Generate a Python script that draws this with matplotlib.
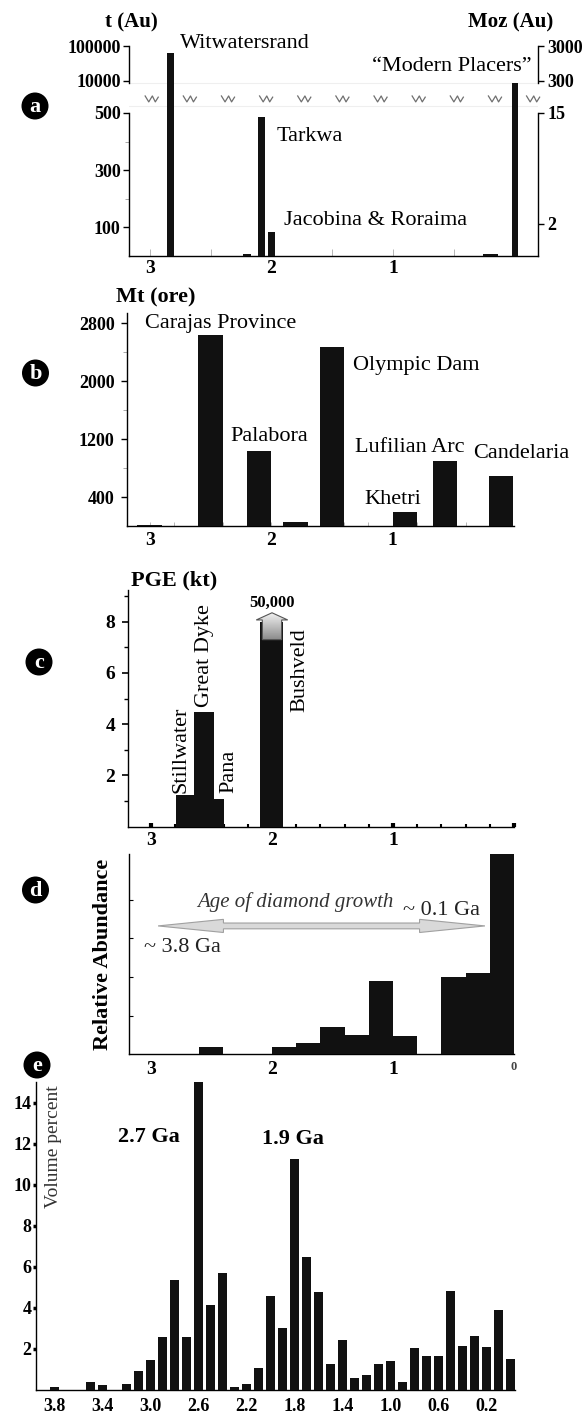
import numpy as np
import matplotlib.pyplot as plt
from matplotlib.patches import Ellipse, FancyArrow, Polygon
from matplotlib.colors import LinearSegmentedColormap

plt.rcParams['font.family'] = ['Liberation Serif', 'DejaVu Serif']
plt.rcParams['axes.linewidth'] = 1.0

BAR = '#111111'

# (a) gold, tonnes Au (placers use the Moz scale on the right)
au_age = [2.83, 2.2, 2.08, 2.0, 0.2, 0.0]
au_tonnes = [63000, 7, 485, 85, 6, 9300]
au_width = [0.062, 0.06, 0.062, 0.062, 0.12, 0.055]
au_left_ticks = [100, 300, 500, 10000, 100000]
au_left_labels = ['100', '300', '500', '10000', '100000']
au_right_ticks = [112, 500, 10000, 100000]
au_right_labels = ['2', '15', '300', '3000']

# (b) IOCG / Cu deposits, Mt ore
cu_age = [3.0, 2.5, 2.1, 1.8, 1.5, 0.9, 0.57, 0.11]
cu_mt = [20, 2635, 1040, 50, 2475, 200, 900, 695]

# (c) PGE, kt
pge_age = [2.715, 2.56, 2.44, 2.0]
pge_kt = [1.23, 4.46, 1.09, 8.0]
pge_width = [0.15, 0.165, 0.08, 0.19]

# (d) diamond ages, relative abundance
dia_age = [2.5, 1.9, 1.7, 1.5, 1.3, 1.1, 0.9, 0.5, 0.3, 0.1]
dia_abund = [0.2, 0.2, 0.28, 0.7, 0.5, 1.9, 0.48, 2.0, 2.1, 5.18]

# (e) juvenile crust, volume percent per 0.1 Ga
crust_age = [3.8, 3.7, 3.6, 3.5, 3.4, 3.3, 3.2, 3.1, 3.0, 2.9, 2.8, 2.7, 2.6,
             2.5, 2.4, 2.3, 2.2, 2.1, 2.0, 1.9, 1.8, 1.7, 1.6, 1.5, 1.4, 1.3,
             1.2, 1.1, 1.0, 0.9, 0.8, 0.7, 0.6, 0.5, 0.4, 0.3, 0.2, 0.1, 0.0]
crust_vol = [0.1, 0, 0, 0.39, 0.2, 0, 0.25, 0.88, 1.44, 2.56, 5.32, 2.56, 15.0,
             4.11, 5.7, 0.11, 0.29, 1.03, 4.55, 3.02, 11.25, 6.45, 4.77, 1.26, 2.4, 0.56,
             0.69, 1.22, 1.37, 0.36, 2.02, 1.63, 1.63, 4.8, 2.12, 2.61, 2.06, 3.87, 1.5]
crust_ticks = [3.8, 3.4, 3.0, 2.6, 2.2, 1.8, 1.4, 1.0, 0.6, 0.2]

W, H = 585, 1416
fig = plt.figure(figsize=(W / 100, H / 100), dpi=100)


def box(left, top, right, bottom):
    return fig.add_axes([left / W, 1 - bottom / H, (right - left) / W, (bottom - top) / H])


def ftext(x, y, s, **kw):
    fig.text(x / W, 1 - y / H, s, **kw)


def badge(x, y, letter):
    fig.add_artist(Ellipse((x / W, 1 - y / H), 27 / W, 27 / H, transform=fig.transFigure,
                           facecolor='black', edgecolor='none'))
    ftext(x, y + 1, letter, color='white', fontsize=16, fontweight='bold',
          ha='center', va='center')


# broken y axis: linear to 500 t, compressed gap, one log decade per 122 units above 10000 t
def brk_fwd(v):
    v = np.asarray(v, dtype=float)
    mid = 500 + (np.clip(v, 500, 1e4) - 500) / 9500 * 112
    hi = 612 + np.log10(np.clip(v, 1e4, None) / 1e4) * 122
    return np.where(v <= 500, v, np.where(v < 1e4, mid, hi))


def brk_inv(y):
    y = np.asarray(y, dtype=float)
    mid = 500 + (np.clip(y, 500, 612) - 500) / 112 * 9500
    hi = 1e4 * 10 ** ((np.clip(y, 612, 2000) - 612) / 122)
    return np.where(y <= 500, y, np.where(y < 612, mid, hi))


# ---- (a)
ax = box(129, 44.6, 538, 256)
ax2 = ax.twinx()
for a in (ax, ax2):
    a.set_yscale('function', functions=(brk_fwd, brk_inv))
    a.set_ylim(0, 1.1e5)
    a.set_xlim(3.17, -0.19)
    a.spines['top'].set_visible(False)
ax.bar(au_age, au_tonnes, width=au_width, color=BAR, zorder=3)
ax.spines['right'].set_visible(False)
ax.spines['left'].set_bounds(0, 500)
ax2.spines['left'].set_visible(False)
ax2.spines['bottom'].set_visible(False)
ax2.spines['right'].set_bounds(0, 500)
ax.plot([0, 0], [9300, 1e5], transform=ax.get_yaxis_transform(), color='k', lw=1.0, clip_on=False)
ax.plot([1, 1], [9300, 1e5], transform=ax.get_yaxis_transform(), color='k', lw=1.0, clip_on=False)
for yv in (9300, 2500):
    ax.axhline(yv, color='#efefef', lw=0.8, zorder=0)
ax.set_yticks(au_left_ticks, au_left_labels, fontsize=13, fontweight='bold')
ax.set_yticks([200, 400], minor=True)
ax2.set_yticks(au_right_ticks, au_right_labels, fontsize=13, fontweight='bold')
ax2.set_yticks([], minor=True)
ax.tick_params(axis='y', which='major', length=4, width=1, pad=2)
ax.tick_params(axis='y', which='minor', length=3, width=0.6, color='#999999')
ax2.tick_params(axis='y', which='major', length=4, width=1, pad=3)
ax.set_xticks([3, 2, 1], ['3', '2', '1'], fontsize=14, fontweight='bold')
ax.set_xticks([2.5, 1.5, 0.5], minor=True)
ax.tick_params(axis='x', which='both', direction='in', length=5, width=0.6, color='#aaaaaa', pad=3)
# zigzag break marks
for xc in np.linspace(0.0555, 0.988, 11):
    zx = xc + np.array([-1, -0.45, 0.1, 0.55, 1]) * 0.016
    zy = 0.743 + np.array([1, -1, 1, -1, 0.6]) * 0.014
    ax.plot(zx, zy, transform=ax.transAxes, color='#6f6f6f', lw=0.9, clip_on=False)
ax.text(2.754, 1.2e5, 'Witwatersrand', fontsize=16, ha='left', va='center')
ax.text(-0.137, 25700, '\u201cModern Placers\u201d', fontsize=16, ha='right', va='center')
ax.text(1.96, 417, 'Tarkwa', fontsize=16, ha='left', va='center')
ax.text(1.895, 123, 'Jacobina & Roraima', fontsize=16, ha='left', va='center')
ftext(131, 22, 't (Au)', fontsize=15, fontweight='bold', ha='center', va='center')
ftext(511, 22, 'Moz (Au)', fontsize=15, fontweight='bold', ha='center', va='center')
badge(35, 106, 'a')

# ---- (b)
ax = box(127, 313, 514.4, 526)
ax.bar(cu_age, cu_mt, width=0.2, color=BAR, zorder=3)
ax.set_xlim(3.186, 0)
ax.set_ylim(0, 2940)
for s in ('top', 'right'):
    ax.spines[s].set_visible(False)
ax.set_yticks([400, 1200, 2000, 2800], ['400', '1200', '2000', '2800'], fontsize=13, fontweight='bold')
ax.set_yticks([800, 1600, 2400], minor=True)
ax.tick_params(axis='y', which='major', length=4, width=1, pad=5)
ax.tick_params(axis='y', which='minor', length=3, width=0.6, color='#999999')
ax.set_xticks([3, 2, 1], ['3', '2', '1'], fontsize=14, fontweight='bold')
ax.set_xticks(np.arange(0.2, 3.1, 0.2), minor=True)
ax.tick_params(axis='x', which='both', direction='in', length=3, width=0.6, color='#aaaaaa', pad=4)
ax.text(2.42, 2800, 'Carajas Province', fontsize=16, ha='center', va='center')
ax.text(2.02, 1241, 'Palabora', fontsize=16, ha='center', va='center')
ax.text(1.33, 2221, 'Olympic Dam', fontsize=16, ha='left', va='center')
ax.text(0.86, 1090, 'Lufilian Arc', fontsize=16, ha='center', va='center')
ax.text(-0.06, 1007, 'Candelaria', fontsize=16, ha='center', va='center')
ax.text(1.0, 359, 'Khetri', fontsize=16, ha='center', va='center')
ftext(156, 297, 'Mt (ore)', fontsize=16, fontweight='bold', ha='center', va='center')
badge(35.5, 373, 'b')

# ---- (c)
ax = box(128, 590, 514, 826.5)
ax.bar(pge_age, pge_kt, width=pge_width, color=BAR, zorder=3)
ax.set_xlim(3.19, 0)
ax.set_ylim(0, 9.24)
for s in ('top', 'right'):
    ax.spines[s].set_visible(False)
ax.set_yticks([2, 4, 6, 8], ['2', '4', '6', '8'], fontsize=14, fontweight='bold')
ax.set_yticks([1, 3, 5, 7, 9], minor=True)
ax.tick_params(axis='y', which='major', length=4, width=1.2, pad=5)
ax.tick_params(axis='y', which='minor', length=3, width=1)
ax.set_xticks([3, 2, 1, 0], ['3', '2', '1', ''], fontsize=14, fontweight='bold')
ax.set_xticks(np.arange(0.2, 3.1, 0.2), minor=True)
ax.tick_params(axis='x', which='major', direction='in', length=3, width=3, pad=4)
ax.tick_params(axis='x', which='minor', direction='in', length=2.5, width=1.5)
# open-ended arrow on the Bushveld bar
arrow = FancyArrow(2.0, 7.3, 0, 1.05, width=0.16, head_width=0.26, head_length=0.28,
                   length_includes_head=True, facecolor='none', edgecolor='#555555', lw=0.8, zorder=5)
ax.add_patch(arrow)
grey = LinearSegmentedColormap.from_list('grey_fade', ['#8a8a8a', '#f0f0f0'])
im = ax.imshow(np.linspace(0, 1, 64).reshape(-1, 1), extent=[2.15, 1.85, 7.3, 8.35], origin='lower',
               cmap=grey, aspect='auto', zorder=4)
im.set_clip_path(arrow)
ax.set_xlim(3.19, 0)
ax.set_ylim(0, 9.24)
ax.text(2.0, 8.73, '50,000', fontsize=12, fontweight='bold', ha='center', va='center')
ax.text(2.755, 1.31, 'Stillwater', fontsize=16, rotation=90, ha='center', va='bottom')
ax.text(2.555, 4.67, 'Great Dyke', fontsize=16, rotation=90, ha='center', va='bottom')
ax.text(2.355, 1.31, 'Pana', fontsize=16, rotation=90, ha='center', va='bottom')
ax.text(1.773, 7.75, 'Bushveld', fontsize=16, rotation=90, ha='center', va='top')
ftext(174, 580, 'PGE (kt)', fontsize=16, fontweight='bold', ha='center', va='center')
badge(39, 662, 'c')

# ---- (d)
ax = box(129, 854, 514, 1054.3)
ax.bar(dia_age, dia_abund, width=0.2, color=BAR, zorder=3)
ax.set_xlim(3.18, 0)
ax.set_ylim(0, 5.18)
for s in ('top', 'right'):
    ax.spines[s].set_visible(False)
ax.set_yticks([1, 2, 3, 4], [])
ax.tick_params(axis='y', direction='in', length=3, width=0.8)
ax.set_xticks([3, 2, 1, 0], ['3', '2', '1', '0'], fontsize=14, fontweight='bold')
ax.get_xticklabels()[3].set_fontsize(9)
ax.get_xticklabels()[3].set_color('#444444')
ax.tick_params(axis='x', length=0, pad=5)
ax.set_ylabel('Relative Abundance', fontsize=16, fontweight='bold', labelpad=8)
# double-headed arrow spanning the diamond growth ages
xl, xr, ya, hl, hw, sw = 2.94, 0.24, 3.32, 0.54, 0.17, 0.075
ax.add_patch(Polygon([(xl, ya), (xl - hl, ya + hw), (xl - hl, ya + sw), (xr + hl, ya + sw),
                      (xr + hl, ya + hw), (xr, ya), (xr + hl, ya - hw), (xr + hl, ya - sw),
                      (xl - hl, ya - sw), (xl - hl, ya - hw)],
                     closed=True, facecolor='#d9d9d9', edgecolor='#a0a0a0', lw=0.8, zorder=4))
ax.text(1.81, 3.95, 'Age of diamond growth', fontsize=15, style='italic', color='#333333',
        ha='center', va='center')
ax.text(0.6, 3.73, '~ 0.1 Ga', fontsize=16, color='#222222', ha='center', va='center')
ax.text(2.74, 2.77, '~ 3.8 Ga', fontsize=16, color='#222222', ha='center', va='center')
badge(35.5, 890, 'd')

# ---- (e)
ax = box(36.3, 1081.7, 515, 1389.5)
ax.bar(crust_age, crust_vol, width=0.075, color=BAR, zorder=3)
ax.set_xlim(3.95, -0.04)
ax.set_ylim(0, 15.02)
for s in ('top', 'right'):
    ax.spines[s].set_visible(False)
ax.set_yticks([2, 4, 6, 8, 10, 12, 14], ['2', '4', '6', '8', '10', '12', '14'],
              fontsize=13, fontweight='bold')
ax.tick_params(axis='y', length=2.5, width=2.5, pad=1)
ax.set_xticks(crust_ticks, [f'{t:.1f}' for t in crust_ticks], fontsize=13, fontweight='bold')
ax.tick_params(axis='x', length=0, pad=6)
ax.text(3.81, 14.85, 'Volume percent', fontsize=14, color='#333333', rotation=90,
        ha='center', va='top')
ax.text(3.01, 12.33, '2.7 Ga', fontsize=16, fontweight='bold', ha='center', va='center')
ax.text(1.81, 12.24, '1.9 Ga', fontsize=16, fontweight='bold', ha='center', va='center')
badge(37, 1065, 'e')

fig.savefig('out.png', dpi=100)
